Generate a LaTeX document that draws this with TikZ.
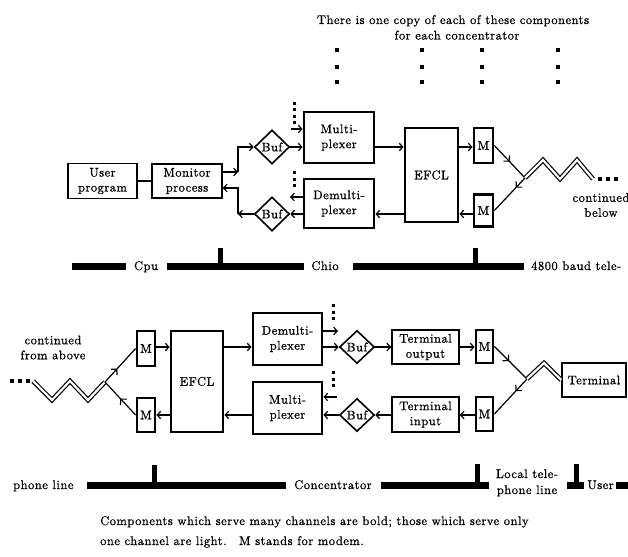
\documentclass[tikz,border=0pt]{standalone}
\usepackage{fontspec}
\setmainfont{lmroman10-regular.otf}[BoldFont=lmroman10-bold.otf,ItalicFont=lmroman10-italic.otf,LetterSpace=4,FakeBold=0.8]
\usetikzlibrary{arrows.meta,shapes.geometric,decorations.markings}
\begin{document}
\begin{tikzpicture}[x=1pt,y=-1pt,
  every node/.style={font=\fontsize{12.5}{15}\selectfont},
  heavybox/.style={draw,line width=2.8pt,align=center,inner sep=0pt},
  lightbox/.style={draw,line width=1.5pt,align=center,inner sep=0pt},
  bufd/.style={draw,diamond,line width=1.6pt,inner sep=0pt,minimum width=35pt,minimum height=34pt},
  arr/.style={line width=1.2pt,-{Straight Barb[length=3.5pt,width=7.5pt]}},
  plain/.style={line width=1.2pt},
  midarr/.style={line width=1.2pt,decoration={markings,mark=at position #1 with {\arrow{Straight Barb[length=4pt,width=8.5pt]}}},postaction={decorate}},
  twin/.style={draw,line width=1.2pt,double=white,double distance=2.2pt,line join=miter},
  dotv/.style={line width=3pt,dash pattern=on 3pt off 3.5pt},
  barline/.style={line width=7pt},
  tickline/.style={line width=5pt},
  txt/.style={inner sep=0pt},
]
\useasboundingbox (0,0) rectangle (628,556);

% heading
\node[txt,anchor=base] (head1) at (453,24) {There is one copy of each of these components};
\node[txt,anchor=base] (head2) at (457,39.5) {for each concentrator};
\foreach \x in {337,422,482,558}
  \foreach \y in {50,67,82}
    \fill (\x-1.7,\y-1.7) rectangle +(3.4,3.4);

% ---------- top section ----------
\node[lightbox,minimum width=69pt,minimum height=35pt] (user) at (102.5,181) {User\\program};
\node[lightbox,minimum width=70pt,minimum height=34pt] (mon) at (187,181) {Monitor\\process};
\node[bufd] (buf1) at (272,147) {Buf};
\node[bufd] (buf2) at (272,214) {Buf};
\node[heavybox,minimum width=70pt,minimum height=51pt] (mux1) at (339,137.5) {Multi-\\plexer};
\node[heavybox,minimum width=70pt,minimum height=49pt] (demux1) at (339,203.5) {Demulti-\\plexer};
\node[heavybox,minimum width=53pt,minimum height=94pt] (efcl1) at (431.5,175) {EFCL};
\node[heavybox,minimum width=19pt,minimum height=35pt] (m1a) at (483.5,145.5) {M};
\node[heavybox,minimum width=19pt,minimum height=32pt] (m1b) at (483.5,210.5) {M};

\coordinate (j1) at (238,172);
\coordinate (j2) at (238,188);
\coordinate (j3) at (238,214);
\draw[plain] (user.east) -- (mon.west);
\draw[arr] (mon.east |- j1) -- (j1);
\draw[arr] (j1) |- (buf1.west);
\draw[arr] (buf2.west) -- (j3);
\draw[arr] (j3) |- (mon.east |- j2);
\draw[arr] (buf1.east) -- (mux1.west |- buf1.east);
\coordinate (f1) at (291,129);
\draw[dotv] (294,102) -- (294,124);
\draw[arr] (f1) -- (mux1.west |- f1);
\draw[arr] (mux1.east |- buf1) -- (efcl1.west |- buf1);
\draw[arr] (efcl1.west |- buf2) -- (demux1.east |- buf2);
\draw[arr] (demux1.west |- buf2) -- (buf2.east);
\coordinate (f2) at (290,197);
\draw[arr] (demux1.west |- f2) -- (f2);
\draw[dotv] (294,171) -- (294,190);
\draw[arr] (efcl1.east |- buf1) -- (m1a.west |- buf1);
\draw[arr] (m1b.west |- buf2) -- (efcl1.east |- buf2);

\coordinate (z1) at (525,178);
\coordinate (z2) at (543,160);
\coordinate (z3) at (560,179);
\coordinate (z4) at (577,160);
\coordinate (z5) at (593,179);
\draw[midarr=0.5] (m1a.east) -- (z1);
\draw[midarr=0.3] (z1) -- (m1b.east);
\draw[twin] (z1) -- (z2) -- (z3) -- (z4) -- (z5);
\foreach \x in {600,608,616} \fill (\x-1.7,177.3) rectangle +(3.4,3.4);
\node[txt,align=center] (cont1) at (601,205) {continued\\below};

% top scale bar
\draw[barline] (72,266) -- (126,266);
\node[txt,anchor=base] (cpu) at (146,270) {Cpu};
\draw[barline] (167,266) -- (304,266);
\draw[tickline] (220.5,248) -- (220.5,266);
\node[txt,anchor=base] (chio) at (325,270) {Chio};
\draw[barline] (353,266) -- (524,266);
\draw[tickline] (475,248) -- (475,266);
\node[txt,anchor=base west] (baud) at (531,270) {4800 baud tele-};

% ---------- bottom section ----------
\node[heavybox,minimum width=18pt,minimum height=35pt] (m2a) at (146,348.5) {M};
\node[heavybox,minimum width=18pt,minimum height=34pt] (m2b) at (146,415) {M};
\node[heavybox,minimum width=52pt,minimum height=101pt] (efcl2) at (197,381.5) {EFCL};
\node[heavybox,minimum width=69pt,minimum height=52pt] (demux2) at (287.5,339) {Demulti-\\plexer};
\node[heavybox,minimum width=69pt,minimum height=52pt] (mux2) at (287.5,408) {Multi-\\plexer};
\node[bufd,minimum height=33pt] (buf3) at (357,347) {Buf};
\node[bufd,minimum height=33pt] (buf4) at (357,415) {Buf};
\node[lightbox,minimum width=67pt,minimum height=34pt] (tout) at (425.5,347) {Terminal\\output};
\node[lightbox,minimum width=67pt,minimum height=35pt] (tin) at (425.5,414.5) {Terminal\\input};
\node[heavybox,minimum width=17pt,minimum height=33pt] (m3a) at (484.5,346.5) {M};
\node[heavybox,minimum width=17pt,minimum height=34pt] (m3b) at (484.5,414) {M};
\node[lightbox,minimum width=64pt,minimum height=34pt] (term) at (594,380) {Terminal};

\draw[arr] (m2a.east |- buf3) -- (efcl2.west |- buf3);
\draw[arr] (efcl2.east |- buf3) -- (demux2.west |- buf3);
\draw[arr] (demux2.east |- buf3) -- (buf3.west);
\draw[arr] (buf3.east) -- (tout.west |- buf3);
\draw[arr] (tout.east |- buf3) -- (m3a.west |- buf3);
\draw[arr] (efcl2.west |- buf4) -- (m2b.east |- buf4);
\draw[arr] (mux2.west |- buf4) -- (efcl2.east |- buf4);
\draw[arr] (buf4.west) -- (mux2.east |- buf4);
\draw[arr] (tin.west |- buf4) -- (buf4.east);
\draw[arr] (m3b.west |- buf4) -- (tin.east |- buf4);
\coordinate (f3) at (338,331);
\draw[arr] (demux2.east |- f3) -- (f3);
\draw[dotv] (333,304) -- (333,323);
\coordinate (f4) at (337,397);
\draw[arr] (f4) -- (mux2.east |- f4);
\draw[dotv] (333,371) -- (333,390);

\coordinate (y1) at (33,381);
\coordinate (y2) at (52,400);
\coordinate (y3) at (70,381);
\coordinate (y4) at (88,400);
\coordinate (y5) at (105,382);
\draw[twin] (y1) -- (y2) -- (y3) -- (y4) -- (y5);
\draw[midarr=0.4] (y5) -- (m2a.west);
\draw[midarr=0.5] (m2b.west) -- (y5);
\foreach \x in {12,20,28} \fill (\x-1.7,379.3) rectangle +(3.4,3.4);
\node[txt,align=center] (cont2) at (53,347.5) {continued\\from above};

\coordinate (w1) at (527,379);
\coordinate (w2) at (544,363);
\draw[midarr=0.45] (m3a.east) -- (w1);
\draw[midarr=0.35] (w1) -- (m3b.east);
\draw[twin] (w1) -- (w2) -- (term.west);

% bottom scale bar
\node[txt,anchor=base west] (pl) at (13,489) {phone line};
\draw[barline] (87,485) -- (286,485);
\draw[tickline] (154,465) -- (154,485);
\node[txt,anchor=base] (conc) at (333,489) {Concentrator};
\draw[barline] (381,485) -- (489,485);
\draw[tickline] (477,464) -- (477,485);
\node[txt,anchor=base] (loc1) at (527,478) {Local tele-};
\node[txt,anchor=base] (loc2) at (527,494) {phone line};
\draw[barline] (567,485) -- (584,485);
\draw[tickline] (576,464) -- (576,485);
\node[txt,anchor=base] (usr) at (600.5,489) {User};
\draw[barline] (616,485) -- (628,485);

% caption
\node[txt,anchor=base west] (cap1) at (100,525) {Components which serve many channels are bold; those which serve only};
\node[txt,anchor=base west] (cap2) at (100,545) {one channel are light.\quad M stands for modem.};
\end{tikzpicture}
\end{document}
